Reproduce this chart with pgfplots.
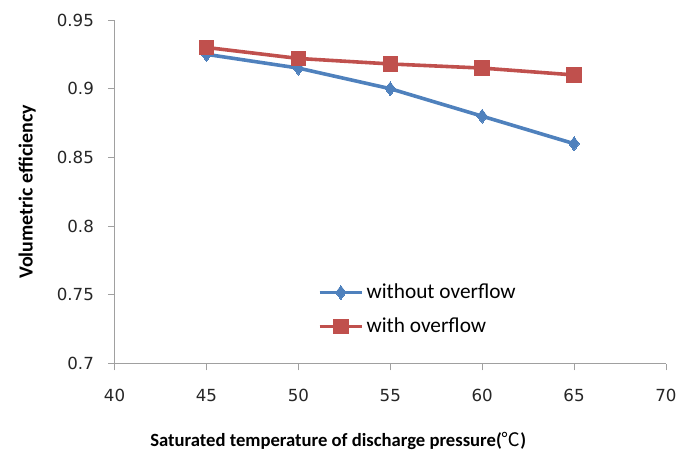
\documentclass[border=0pt]{standalone}
\usepackage{fontspec}
\setmainfont{Carlito}
\newfontfamily\cjk{Noto Sans CJK SC}
\newfontfamily\tickfont{DejaVu Sans}
\usepackage{pgfplots}
\pgfplotsset{compat=1.18}
\definecolor{xlblue}{HTML}{4F81BD}
\definecolor{xlred}{HTML}{C0504D}
\definecolor{axgray}{HTML}{A0A0A0}

\begin{document}
\begin{tikzpicture}
\begin{axis}[
    scale only axis,
    width=414pt, height=258pt,
    xmin=40, xmax=70, ymin=0.7, ymax=0.95,
    xtick={40,45,...,70},
    ytick={0.7,0.75,...,0.95},
    yticklabels={0.7,0.75,0.8,0.85,0.9,0.95},
    axis lines=left,
    axis line style={axgray, -},
    tick style={axgray, line width=0.6pt},
    tick align=outside,
    major tick length=5pt,
    ticklabel style={font=\tickfont\fontsize{12.5}{15}\selectfont, text=black!85},
    /pgf/number format/assume math mode=true,
    xticklabel style={yshift=-11pt},
    yticklabel style={xshift=-7pt},
    xlabel={\textbf{Saturated temperature of discharge pressure(}{\cjk ℃}\textbf{)}},
    ylabel={\textbf{Volumetric efficiency}},
    xlabel style={font=\fontsize{14}{16}\selectfont, yshift=-16pt, xshift=-39pt},
    ylabel style={font=\fontsize{15}{17}\selectfont, yshift=9pt},
    legend style={draw=none, fill=none, at={(0.368,0.240)}, anchor=north west,
        font=\fontsize{16}{18}\selectfont, row sep=9pt, inner sep=0pt},
    legend cell align=left,
    legend image code/.code={
        \draw[#1, mark repeat=2, mark phase=2] plot coordinates {(0pt,0pt) (16pt,0pt) (32pt,0pt)};
    },
]
\addplot[color=xlblue, line width=2.7pt, mark=diamond*, mark size=5.2pt,
    mark options={fill=xlblue, draw=xlblue, line width=0pt}] coordinates {
    (45, 0.925)
    (50, 0.915)
    (55, 0.900)
    (60, 0.880)
    (65, 0.860)
};
\addlegendentry{without overflow}

\addplot[color=xlred, line width=2.7pt, mark=square*, mark size=5.4pt,
    mark options={fill=xlred, draw=xlred, line width=0pt}] coordinates {
    (45, 0.930)
    (50, 0.922)
    (55, 0.918)
    (60, 0.915)
    (65, 0.910)
};
\addlegendentry{with overflow}
\end{axis}
\path (current axis.south west) ++(-86pt,-66pt);
\path (current axis.north east) ++(10.5pt,15pt);
\end{tikzpicture}
\end{document}
